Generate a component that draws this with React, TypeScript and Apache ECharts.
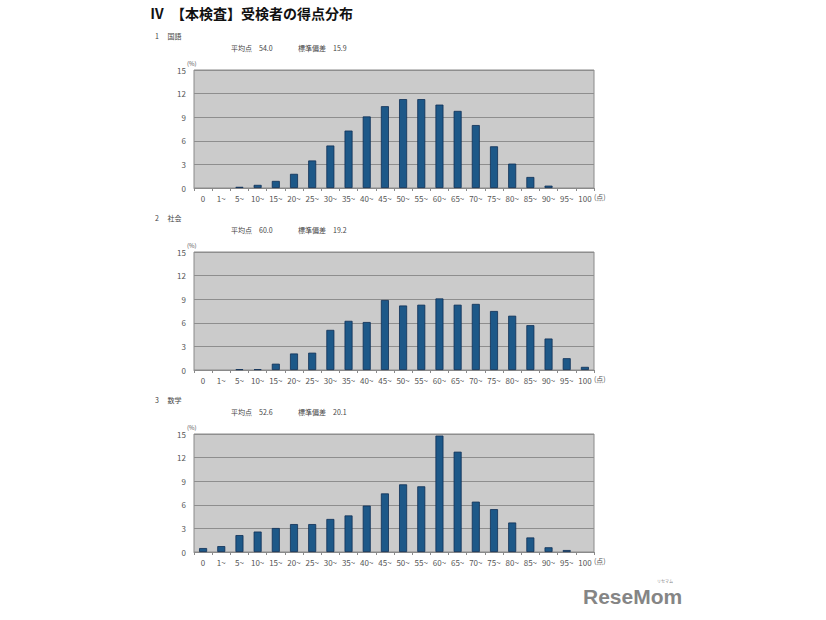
import React, { useEffect, useRef } from "react";
import * as echarts from "echarts";

const categories = ["0", "1~", "5~", "10~", "15~", "20~", "25~", "30~", "35~", "40~", "45~", "50~", "55~", "60~", "65~", "70~", "75~", "80~", "85~", "90~", "95~", "100"];

const kokugo = [0, 0, 0.15, 0.4, 0.9, 1.8, 3.5, 5.4, 7.3, 9.1, 10.4, 11.3, 11.3, 10.6, 9.8, 8.0, 5.3, 3.1, 1.4, 0.3, 0, 0];
const shakai = [0, 0, 0.1, 0.1, 0.8, 2.1, 2.2, 5.1, 6.25, 6.1, 8.9, 8.2, 8.3, 9.1, 8.3, 8.4, 7.5, 6.9, 5.7, 4.0, 1.5, 0.4];
const sugaku = [0.5, 0.75, 2.15, 2.6, 3.05, 3.55, 3.55, 4.2, 4.65, 5.9, 7.45, 8.6, 8.35, 14.8, 12.75, 6.4, 5.45, 3.75, 1.85, 0.6, 0.25, 0];

const subjects = ["1　国語", "2　社会", "3　数学"];
const means = ["54.0", "60.0", "52.6"];
const sds = ["15.9", "19.2", "20.1"];

const FONT = "'Noto Sans CJK JP', 'Noto Sans', sans-serif";

export default function App() {
  const ref = useRef<HTMLDivElement>(null);
  useEffect(() => {
    document.body.style.margin = "0";
    const chart = echarts.init(ref.current!, null, { renderer: "svg" });
    const tops = [70, 252, 434];
    const seriesData = [kokugo, shakai, sugaku];
    const grids = tops.map((t) => ({ left: 194, top: t, width: 400, height: 118, show: true, backgroundColor: "#cbcbcb", borderColor: "#8a8a8a", borderWidth: 1 }));
    const xAxes = tops.map((_, i) => ({
      type: "category",
      gridIndex: i,
      data: categories,
      axisLine: { lineStyle: { color: "#8a8a8a" } },
      axisTick: { show: true, alignWithLabel: false, length: 3, lineStyle: { color: "#8a8a8a" } },
      axisLabel: { color: "#555", fontSize: 8, fontFamily: FONT, margin: 6, interval: 0 },
    }));
    const yAxes = tops.map((_, i) => ({
      type: "value",
      gridIndex: i,
      min: 0,
      max: 15,
      interval: 3,
      axisLine: { show: false },
      axisTick: { show: false },
      axisLabel: { color: "#555", fontSize: 8, fontFamily: FONT, margin: 8 },
      splitLine: { lineStyle: { color: "#8e8e8e", width: 1 } },
    }));
    const series = seriesData.map((d, i) => ({
      type: "bar",
      xAxisIndex: i,
      yAxisIndex: i,
      data: d.map((v) => (v === 0 ? { value: v, itemStyle: { borderWidth: 0, opacity: 0 } } : v)),
      barWidth: 8,
      itemStyle: { color: "#1d5888", borderColor: "#0e2f55", borderWidth: 0.8 },
    }));
    const graphics: any[] = [
      { type: "text", left: 150, top: 6, style: { text: "Ⅳ　【本検査】受検者の得点分布", font: `bold 14px ${FONT}`, fill: "#111" } },
    ];
    const headerTops = [32, 214, 396];
    headerTops.forEach((ht, i) => {
      graphics.push({ type: "text", left: 155, top: ht, style: { text: subjects[i].replace("　", "　 "), font: `7px ${FONT}`, fill: "#444" } });
      graphics.push({ type: "text", left: 231, top: ht + 12, style: { text: `平均点　${means[i]}`, font: `7px ${FONT}`, fill: "#444" } });
      graphics.push({ type: "text", left: 298, top: ht + 12, style: { text: `標準偏差　${sds[i]}`, font: `7px ${FONT}`, fill: "#444" } });
      graphics.push({ type: "text", left: 187, top: tops[i] - 10, style: { text: "(%)", font: `6px ${FONT}`, fill: "#555" } });
      graphics.push({ type: "text", left: 594, top: tops[i] + 123, style: { text: "(点)", font: `7px ${FONT}`, fill: "#555" } });
    });
    graphics.push({ type: "text", left: 583, top: 586, style: { text: "ReseMom", font: `bold 21px 'Liberation Sans', Arial, sans-serif`, fill: "#858585" } });
    graphics.push({ type: "text", left: 657, top: 579, style: { text: "リセマム", font: `4px ${FONT}`, fill: "#858585" } });
    chart.setOption({
      animation: false,
      backgroundColor: "#ffffff",
      grid: grids,
      xAxis: xAxes,
      yAxis: yAxes,
      series,
      graphic: graphics,
    });
    return () => chart.dispose();
  }, []);
  return <div ref={ref} style={{ position: "fixed", left: 0, top: 0, width: 826, height: 620 }} />;
}
